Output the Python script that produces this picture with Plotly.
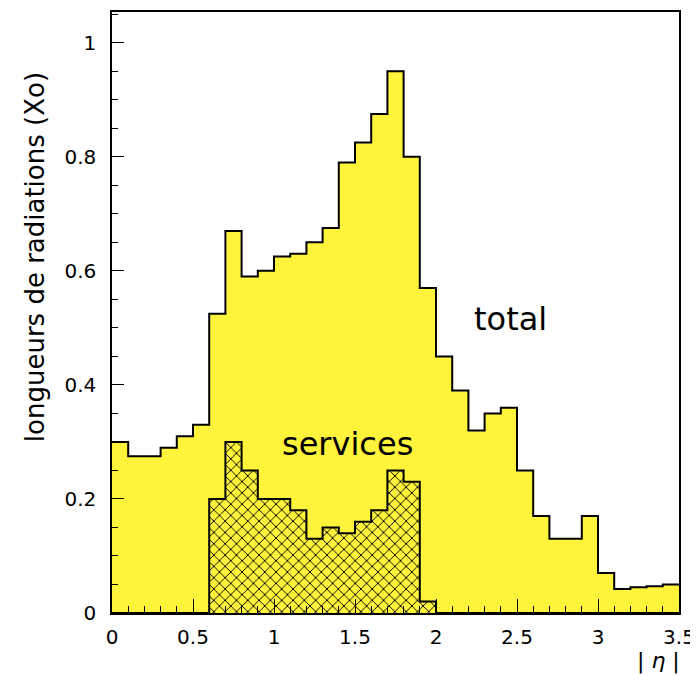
import plotly.graph_objects as go

# Bin edges in |eta| (bins of 0.1 from 0 to 3.5)
bin_edges = [0.0, 0.1, 0.2, 0.3, 0.4, 0.5, 0.6, 0.7, 0.8, 0.9,
             1.0, 1.1, 1.2, 1.3, 1.4, 1.5, 1.6, 1.7, 1.8, 1.9,
             2.0, 2.1, 2.2, 2.3, 2.4, 2.5, 2.6, 2.7, 2.8, 2.9,
             3.0, 3.1, 3.2, 3.3, 3.4, 3.5]

# Total radiation lengths per bin (X0)
total = [0.30, 0.275, 0.275, 0.29, 0.31, 0.33, 0.525, 0.67, 0.59, 0.60,
         0.625, 0.63, 0.65, 0.675, 0.79, 0.825, 0.875, 0.95, 0.80, 0.57,
         0.45, 0.39, 0.32, 0.35, 0.36, 0.25, 0.17, 0.13, 0.13, 0.17,
         0.07, 0.042, 0.045, 0.047, 0.05]

# Services contribution per bin (X0)
services = [0, 0, 0, 0, 0, 0, 0.20, 0.30, 0.25, 0.20,
            0.20, 0.18, 0.13, 0.15, 0.14, 0.16, 0.18, 0.25, 0.23, 0.02,
            0, 0, 0, 0, 0, 0, 0, 0, 0, 0,
            0, 0, 0, 0, 0]

x_tick_vals = [0, 0.5, 1, 1.5, 2, 2.5, 3, 3.5]
x_tick_text = ["0", "0.5", "1", "1.5", "2", "2.5", "3", "3.5"]
y_tick_vals = [0, 0.2, 0.4, 0.6, 0.8, 1.0]
y_tick_text = ["0", "0.2", "0.4", "0.6", "0.8", "1"]

YELLOW = "#fff33b"
FONT = "DejaVu Sans"

fig = go.Figure()

fig.add_trace(go.Scatter(
    x=bin_edges, y=total + [total[-1]],
    mode="lines", line=dict(shape="hv", color="black", width=2),
    fill="tozeroy", fillcolor=YELLOW, hoverinfo="skip", showlegend=False,
))

fig.add_trace(go.Scatter(
    x=bin_edges, y=services + [services[-1]],
    mode="lines", line=dict(shape="hv", color="black", width=2),
    fill="tozeroy",
    fillpattern=dict(shape="x", bgcolor=YELLOW, fgcolor="black",
                     size=8, solidity=0.22, fillmode="replace"),
    hoverinfo="skip", showlegend=False,
))

# page body keeps its default 8px margin: the figure sits at (8, 8)
fig.update_layout(
    width=690, height=667, autosize=False,
    margin=dict(l=104, r=19, t=2, b=62),
    plot_bgcolor="white", paper_bgcolor="white",
    font=dict(family=FONT, size=20, color="black"),
    xaxis=dict(
        range=[0, 3.5], showgrid=False, zeroline=False,
        showline=True, linecolor="black", linewidth=1.5, mirror=True,
        ticks="inside", ticklen=14, tickwidth=1, tickcolor="black",
        tickvals=x_tick_vals, ticktext=x_tick_text,
        minor=dict(ticks="inside", ticklen=7, dtick=0.1, tickcolor="black", tickwidth=1),
        ticklabelstandoff=5, ticklabeloverflow="allow",
    ),
    yaxis=dict(
        range=[0, 1.054], showgrid=False, zeroline=False,
        showline=True, linecolor="black", linewidth=1.5, mirror=True,
        ticks="inside", ticklen=12, tickwidth=1, tickcolor="black",
        tickvals=y_tick_vals, ticktext=y_tick_text,
        minor=dict(ticks="inside", ticklen=6, dtick=0.05, tickcolor="black", tickwidth=1),
        ticklabelstandoff=10,
    ),
)

fig.add_annotation(
    text="longueurs de radiations (Xo)", textangle=-90,
    xref="paper", yref="paper", x=(35 - 112) / 567, y=(613 - 256) / 603,
    showarrow=False, font=dict(size=26, family=FONT),
    xanchor="center", yanchor="middle",
)
fig.add_annotation(
    text="| <i>η</i> |",
    xref="paper", yref="paper", x=(658 - 112) / 567, y=(613 - 661) / 603,
    showarrow=False, font=dict(size=22, family=FONT),
    xanchor="center", yanchor="middle",
)
fig.add_annotation(
    text="total", xref="paper", yref="paper",
    x=(510 - 112) / 567, y=(613 - 318) / 603,
    showarrow=False, font=dict(size=32, family=FONT),
    xanchor="center", yanchor="middle",
)
fig.add_annotation(
    text="services", xref="paper", yref="paper",
    x=(347 - 112) / 567, y=(613 - 443) / 603,
    showarrow=False, font=dict(size=32, family=FONT),
    xanchor="center", yanchor="middle",
)

fig.write_html(
    "out.html",
    config={"responsive": False, "displayModeBar": False},
    post_script="document.documentElement.style.overflow='hidden';",
)
